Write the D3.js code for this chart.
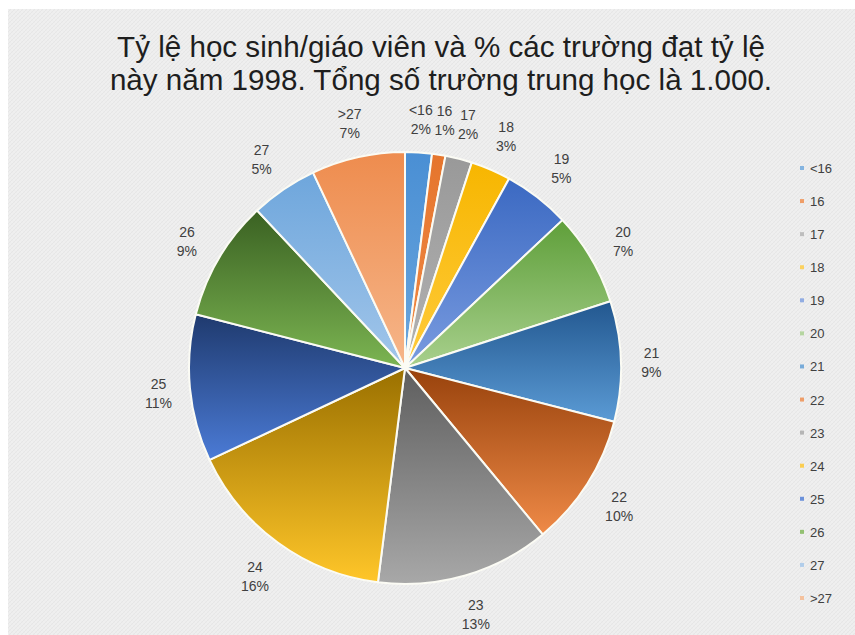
<!DOCTYPE html>
<html>
<head>
<meta charset="utf-8">
<script src="https://cdn.jsdelivr.net/npm/d3@7/dist/d3.min.js"></script>
<style>
  html, body { margin: 0; padding: 0; background: #ffffff; }
  svg { display: block; }
</style>
</head>
<body>
<svg id="chart" width="855" height="635"></svg>
<script>
// Student/teacher ratio buckets and share of schools (%), 1998
const categories = ["<16", "16", "17", "18", "19", "20", "21", "22", "23", "24", "25", "26", "27", ">27"];
const shares = [2, 1, 2, 3, 5, 7, 9, 10, 13, 16, 11, 9, 5, 7];
// Gradient stops per slice: top colour, bottom colour
const topColors = ["#4a8fd4", "#e5752d", "#999999", "#f7b600", "#3b69c2", "#5f9f3a",
                   "#22578f", "#98420c", "#5e5e5e", "#9a7000", "#1f3a6e", "#3a6122", "#6ea6dc", "#ee8c4e"];
const bottomColors = ["#6aa6dd", "#f08a46", "#b2b2b2", "#ffcb3c", "#7a9ce0", "#a8d08d",
                      "#5b9bd5", "#ef8a47", "#a8a8a8", "#ffc629", "#4b7bd6", "#7cb552", "#a2c6ea", "#f6b68a"];
const titleLines = ["Tỷ lệ học sinh/giáo viên và % các trường đạt tỷ lệ",
                    "này năm 1998. Tổng số trường trung học là 1.000."];

const W = 855, H = 635;
const cx = 405, cy = 368, R = 216;

const svg = d3.select("#chart");
const defs = svg.append("defs");

// Crosshatch texture for the chart area
const pat = defs.append("pattern")
  .attr("id", "hatch").attr("width", 4).attr("height", 4)
  .attr("patternUnits", "userSpaceOnUse");
pat.append("rect").attr("width", 4).attr("height", 4).attr("fill", "#efefef");
pat.append("path").attr("d", "M0,4 L4,0").attr("stroke", "#e3e3e3").attr("stroke-width", 0.8);
pat.append("path").attr("d", "M0,0 L4,4").attr("stroke", "#e9e9e9").attr("stroke-width", 0.6);

svg.append("rect").attr("x", 8).attr("y", 9).attr("width", W - 8).attr("height", H - 9)
  .attr("fill", "url(#hatch)");

// Title
svg.append("g").selectAll("text").data(titleLines).join("text")
  .attr("x", 441).attr("y", (d, i) => 57 + i * 33)
  .attr("text-anchor", "middle")
  .attr("font-family", "'Liberation Sans', Arial, sans-serif")
  .attr("font-size", 29.6)
  .attr("fill", "#1e1e1e")
  .text(d => d);

const color = d3.scaleOrdinal().domain(categories).range(d3.range(categories.length));

// Per-slice vertical gradients
defs.selectAll("linearGradient.slice").data(categories).join("linearGradient")
  .attr("class", "slice")
  .attr("id", (d, i) => "g" + i)
  .attr("x1", 0).attr("y1", 0).attr("x2", 0).attr("y2", 1)
  .each(function (d, i) {
    const g = d3.select(this);
    g.append("stop").attr("offset", "0%").attr("stop-color", topColors[i]);
    g.append("stop").attr("offset", "100%").attr("stop-color", bottomColors[i]);
  });

const data = categories.map((c, i) => ({ cat: c, value: shares[i] }));
const pie = d3.pie().value(d => d.value).sort(null);
const arcs = pie(data);
const arc = d3.arc().innerRadius(0).outerRadius(R);

const g = svg.append("g").attr("transform", `translate(${cx},${cy})`);
g.selectAll("path").data(arcs).join("path")
  .attr("d", arc)
  .attr("fill", d => `url(#g${color(d.data.cat)})`)
  .attr("stroke", "#fbfbf4")
  .attr("stroke-width", 2)
  .attr("stroke-linejoin", "round");

// Data labels outside each slice: category and percentage
const total = d3.sum(shares);
const labels = g.append("g")
  .attr("font-family", "'Liberation Sans', Arial, sans-serif")
  .attr("font-size", 14)
  .attr("fill", "#404040");
arcs.forEach(a => {
  const mid = (a.startAngle + a.endAngle) / 2;
  const s = Math.sin(mid), c = -Math.cos(mid);
  const hw = 13, hh = 18, gap = 17;
  const dist = R + gap + Math.abs(s) * hw + Math.abs(c) * hh;
  const x = s * dist, y = c * dist + 2;
  const t = labels.append("text").attr("text-anchor", "middle")
    .attr("transform", `translate(${x},${y})`);
  t.append("tspan").attr("x", 0).attr("y", -4).text(a.data.cat);
  t.append("tspan").attr("x", 0).attr("y", 15)
    .text(d3.format(".0%")(a.data.value / total));
});

// Legend
const legend = svg.append("g")
  .attr("font-family", "'Liberation Sans', Arial, sans-serif")
  .attr("font-size", 13)
  .attr("fill", "#404040");
const ly = d3.scalePoint().domain(categories).range([168, 598]);
const rows = legend.selectAll("g").data(categories).join("g")
  .attr("transform", d => `translate(802,${ly(d)})`);
rows.append("rect").attr("x", -2).attr("y", -2).attr("width", 4).attr("height", 4)
  .attr("fill", (d, i) => bottomColors[i]).attr("opacity", 0.8);
rows.append("text").attr("x", 8).attr("y", 5).text(d => d);
</script>
</body>
</html>
